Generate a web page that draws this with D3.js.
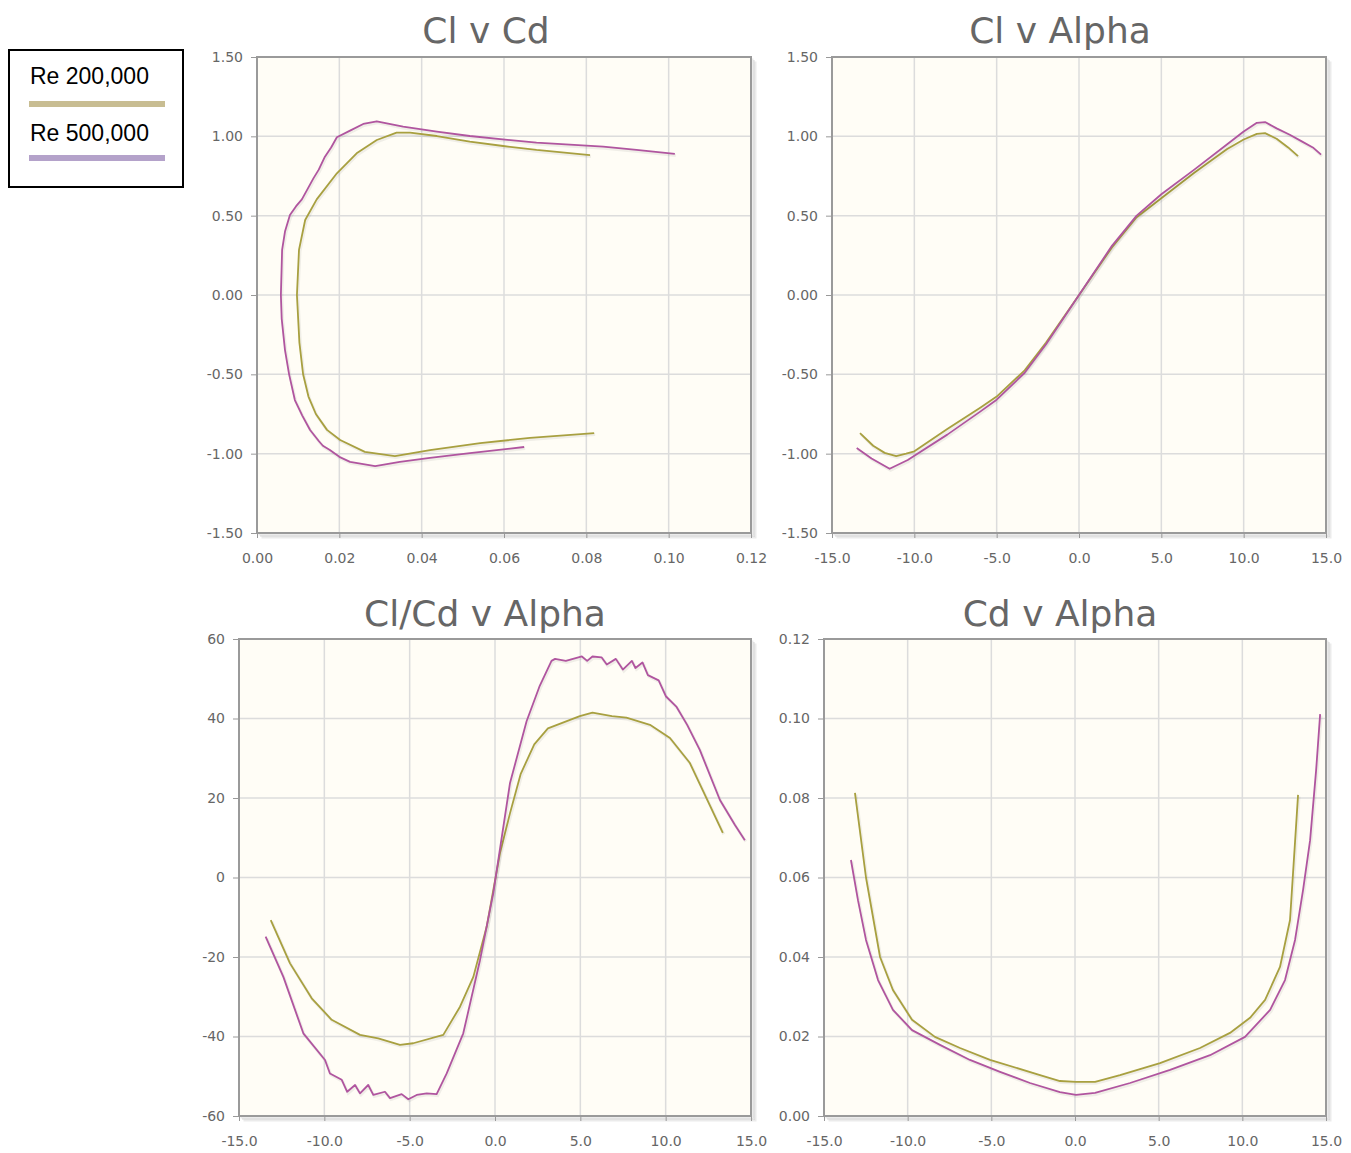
<!DOCTYPE html>
<html><head><meta charset="utf-8">
<script src="https://cdn.jsdelivr.net/npm/d3@7"></script>
<style>body{margin:0;background:#fff;} svg{display:block}</style>
</head><body><svg id="c" width="1351" height="1153"></svg>
<script>
// ---------- DATA ----------
const seriesNames = ["Re 200,000", "Re 500,000"];
const chartTitles = ["Cl v Cd", "Cl v Alpha", "Cl/Cd v Alpha", "Cd v Alpha"];

const cdTicks = [0, 0.02, 0.04, 0.06, 0.08, 0.10, 0.12];
const clTicks = [-1.5, -1.0, -0.5, 0, 0.5, 1.0, 1.5];
const alphaTicks = [-15, -10, -5, 0, 5, 10, 15];
const clcdTicks = [-60, -40, -20, 0, 20, 40, 60];
const cdAxisTicks = [0, 0.02, 0.04, 0.06, 0.08, 0.10, 0.12];

// Cl v Cd (polar) – Re 200,000
const polarCd200 = [0.0819,0.0663,0.0542,0.0420,0.0335,0.0262,0.0202,0.0170,0.0143,0.0125,0.0112,0.0103,0.0097,0.0102,0.0117,0.0145,0.0194,0.0242,0.0291,0.0339,0.0372,0.0437,0.0517,0.0598,0.0679,0.0809];
const polarCl200 = [-0.870,-0.901,-0.933,-0.977,-1.015,-0.989,-0.914,-0.850,-0.750,-0.640,-0.500,-0.300,0.000,0.284,0.473,0.603,0.767,0.893,0.977,1.023,1.023,1.002,0.966,0.939,0.914,0.882];
// Cl v Cd (polar) – Re 500,000
const polarCd500 = [0.0649,0.0517,0.0420,0.0347,0.0287,0.0226,0.0200,0.0177,0.0160,0.0150,0.0129,0.0110,0.0092,0.0078,0.0068,0.0060,0.0058,0.0061,0.0068,0.0080,0.0095,0.0109,0.0137,0.0150,0.0165,0.0180,0.0194,0.0226,0.0258,0.0291,0.0355,0.0437,0.0517,0.0679,0.0841,0.0922,0.1015];
const polarCl500 = [-0.958,-0.996,-1.027,-1.052,-1.078,-1.052,-1.020,-0.977,-0.950,-0.920,-0.851,-0.760,-0.662,-0.500,-0.347,-0.150,0.000,0.284,0.400,0.504,0.560,0.603,0.735,0.790,0.872,0.930,0.994,1.036,1.078,1.095,1.061,1.030,1.002,0.960,0.935,0.914,0.889];

// Cl v Alpha
const alphaCl200 = [-13.3,-12.5,-11.8,-11.1,-10.5,-10.0,-8.0,-6.0,-5.0,-3.3,-2.0,0.0,2.0,3.5,5.0,7.0,9.0,10.0,10.8,11.3,12.0,12.7,13.3];
const cl200      = [-0.870,-0.950,-0.995,-1.015,-1.000,-0.985,-0.845,-0.710,-0.640,-0.475,-0.300,0.000,0.300,0.490,0.610,0.770,0.920,0.980,1.015,1.020,0.985,0.930,0.875];
const alphaCl500 = [-13.5,-12.6,-11.5,-10.4,-8.0,-6.0,-5.0,-3.3,-2.0,0.0,2.0,3.5,5.0,7.0,9.0,10.0,10.8,11.3,12.0,12.8,13.5,14.2,14.7];
const cl500      = [-0.965,-1.030,-1.095,-1.040,-0.880,-0.735,-0.660,-0.490,-0.310,0.000,0.310,0.500,0.635,0.790,0.950,1.030,1.085,1.090,1.050,1.010,0.970,0.930,0.885];

// Cl/Cd v Alpha
const alphaLD200 = [-13.14,-12.01,-10.74,-9.57,-7.91,-6.84,-5.57,-4.79,-3.03,-2.05,-1.27,-0.49,0.29,0.88,1.5,2.3,3.1,4.97,5.71,6.85,7.70,9.08,10.25,11.42,12.3,13.35];
const ld200      = [-10.7,-21.6,-30.4,-35.8,-39.6,-40.5,-42.1,-41.7,-39.6,-32.5,-25.0,-12.4,6.1,16.2,26.0,33.5,37.5,40.6,41.5,40.6,40.2,38.4,35.1,28.8,20.8,11.2];
const alphaLD500 = [-13.44,-12.40,-11.23,-9.96,-9.67,-8.98,-8.66,-8.20,-7.91,-7.43,-7.13,-6.45,-6.15,-5.47,-5.08,-4.59,-4.00,-3.42,-2.83,-1.86,-0.88,-0.10,0.88,1.85,2.6,3.31,3.52,4.15,4.57,5.09,5.40,5.71,6.24,6.55,7.08,7.49,8.02,8.23,8.64,8.96,9.59,10.01,10.64,11.26,12.0,13.18,14.06,14.64];
const ld500      = [-14.9,-25.0,-39.2,-45.9,-49.3,-50.9,-53.9,-52.2,-54.3,-52.2,-54.7,-53.9,-55.5,-54.5,-55.8,-54.7,-54.3,-54.5,-49.3,-39.2,-20.8,-3.9,23.8,39.3,48.0,54.5,55.0,54.5,55.0,55.6,54.5,55.6,55.4,53.6,55.0,52.3,54.5,52.7,54.1,50.9,49.6,45.6,42.9,38.4,32.1,19.5,13.2,9.4];

// Cd v Alpha
const alphaCd200 = [-13.15,-12.49,-11.65,-10.88,-9.74,-8.37,-6.87,-5.08,-2.09,-0.90,0.06,1.20,2.69,5.08,7.47,9.26,10.46,11.36,12.25,12.85,13.33];
const cd200      = [0.0813,0.0600,0.0400,0.0317,0.0242,0.0199,0.0171,0.0141,0.0103,0.0088,0.0086,0.0086,0.0103,0.0133,0.0171,0.0209,0.0247,0.0292,0.0375,0.0493,0.0808];
const alphaCd500 = [-13.39,-12.97,-12.49,-11.77,-10.88,-9.74,-8.07,-6.28,-4.48,-2.69,-0.90,0.06,1.20,3.29,5.68,8.07,10.16,11.66,12.55,13.15,13.63,14.05,14.41,14.65];
const cd500      = [0.0644,0.0543,0.0443,0.0342,0.0267,0.0216,0.0179,0.0141,0.0111,0.0083,0.0060,0.0053,0.0058,0.0083,0.0116,0.0153,0.0199,0.0267,0.0342,0.0443,0.0569,0.0694,0.0870,0.1011];

// ---------- DRAWING ----------
const lineColors = ["#a8a040", "#b0559f"];
const legendColors = ["#c8bd92", "#b4a2ca"];
const svg = d3.select('#c');
const zip = (xs, ys) => xs.map((v, i) => [v, ys[i]]);
const fmt = k => d => d.toFixed(k);

function panel(o) {
  const x = d3.scaleLinear().domain(o.xDomain).range([o.left, o.right]);
  const y = d3.scaleLinear().domain(o.yDomain).range([o.bottom, o.top]);
  const g = svg.append('g');
  const w = o.right - o.left, h = o.bottom - o.top;
  [1.5, 3, 4.5].forEach(off => {
    g.append('path')
      .attr('d', `M${o.left + off},${o.bottom + off}H${o.right + off}V${o.top + off}`)
      .attr('fill', 'none').attr('stroke', '#000').attr('stroke-opacity', 0.08).attr('stroke-width', 2);
  });
  g.append('rect').attr('x', o.left).attr('y', o.top).attr('width', w).attr('height', h).attr('fill', '#fffdf6');
  g.selectAll('.gx').data(o.xTicks.slice(1, -1)).join('line')
    .attr('x1', d => x(d)).attr('x2', d => x(d)).attr('y1', o.top).attr('y2', o.bottom)
    .attr('stroke', '#dcdcdc').attr('stroke-width', 1.5);
  g.selectAll('.gy').data(o.yTicks.slice(1, -1)).join('line')
    .attr('y1', d => y(d)).attr('y2', d => y(d)).attr('x1', o.left).attr('x2', o.right)
    .attr('stroke', '#dcdcdc').attr('stroke-width', 1.5);
  const line = d3.line().x(d => x(d[0])).y(d => y(d[1]));
  o.series.forEach((s, i) => {
    g.append('path').datum(s).attr('d', line).attr('fill', 'none')
      .attr('stroke', '#000').attr('stroke-opacity', 0.06).attr('stroke-width', 3)
      .attr('transform', 'translate(1,1.5)');
    g.append('path').datum(s).attr('d', line).attr('fill', 'none')
      .attr('stroke', lineColors[i]).attr('stroke-width', 1.8).attr('stroke-linejoin', 'round');
  });
  g.append('rect').attr('x', o.left).attr('y', o.top).attr('width', w).attr('height', h)
    .attr('fill', 'none').attr('stroke', '#9a9a9a').attr('stroke-width', 2);
  const ax = g.append('g').attr('transform', `translate(0,${o.bottom})`)
    .call(d3.axisBottom(x).tickValues(o.xTicks).tickFormat(o.xFmt).tickSize(5).tickPadding(14));
  const ay = g.append('g').attr('transform', `translate(${o.left},0)`)
    .call(d3.axisLeft(y).tickValues(o.yTicks).tickFormat(o.yFmt).tickSize(6).tickPadding(8));
  [ax, ay].forEach(a => {
    a.select('.domain').remove();
    a.selectAll('line').attr('stroke', '#999');
    a.selectAll('text').attr('fill', '#666').style('font-family', 'DejaVu Sans, sans-serif').style('font-size', '14px');
  });
  ax.selectAll('text').attr('dy', '0.35em').attr('y', 25);
  svg.append('text').attr('x', o.titleX).attr('y', o.titleY).attr('text-anchor', 'middle')
    .attr('fill', '#666').style('font-family', 'DejaVu Sans, sans-serif').style('font-size', '36px')
    .text(o.title);
}

panel({left: 257, right: 751, top: 57, bottom: 533, xDomain: [0, 0.12], yDomain: [-1.5, 1.5],
  xTicks: cdTicks, yTicks: clTicks, xFmt: fmt(2), yFmt: fmt(2), title: chartTitles[0], titleX: 486, titleY: 43,
  series: [zip(polarCd200, polarCl200), zip(polarCd500, polarCl500)]});
panel({left: 832, right: 1326, top: 57, bottom: 533, xDomain: [-15, 15], yDomain: [-1.5, 1.5],
  xTicks: alphaTicks, yTicks: clTicks, xFmt: fmt(1), yFmt: fmt(2), title: chartTitles[1], titleX: 1060, titleY: 43,
  series: [zip(alphaCl200, cl200), zip(alphaCl500, cl500)]});
panel({left: 239, right: 751, top: 639, bottom: 1116, xDomain: [-15, 15], yDomain: [-60, 60],
  xTicks: alphaTicks, yTicks: clcdTicks, xFmt: fmt(1), yFmt: fmt(0), title: chartTitles[2], titleX: 485, titleY: 626,
  series: [zip(alphaLD200, ld200), zip(alphaLD500, ld500)]});
panel({left: 824, right: 1326, top: 639, bottom: 1116, xDomain: [-15, 15], yDomain: [0, 0.12],
  xTicks: alphaTicks, yTicks: cdAxisTicks, xFmt: fmt(1), yFmt: fmt(2), title: chartTitles[3], titleX: 1060, titleY: 626,
  series: [zip(alphaCd200, cd200), zip(alphaCd500, cd500)]});

const lg = svg.append('g');
lg.append('rect').attr('x', 9).attr('y', 50).attr('width', 174).attr('height', 137)
  .attr('fill', '#fff').attr('stroke', '#000').attr('stroke-width', 2);
seriesNames.forEach((n, i) => {
  lg.append('text').attr('x', 30).attr('y', 84 + i * 57).text(n)
    .style('font-family', 'Liberation Sans, Arial, sans-serif').style('font-size', '23px').attr('fill', '#000');
  lg.append('line').attr('x1', 29).attr('x2', 165).attr('y1', 104 + i * 54).attr('y2', 104 + i * 54)
    .attr('stroke', legendColors[i]).attr('stroke-width', 6);
});
</script></body></html>
